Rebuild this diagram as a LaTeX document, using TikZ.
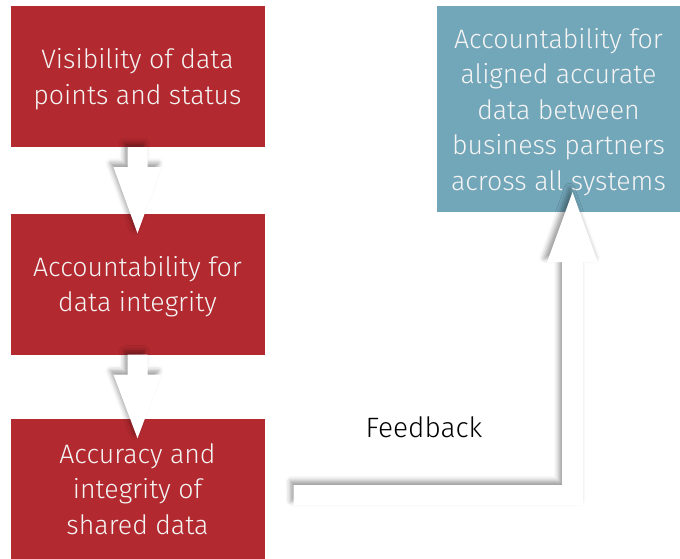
\documentclass[tikz,border=0pt]{standalone}
\usepackage{fontspec}
\setmainfont{Fira Sans Light}
\usepackage{xcolor}
\usepackage{tikz}
\usetikzlibrary{calc,shadows.blur}
\definecolor{stepred}{HTML}{B2292F}
\definecolor{goalblue}{HTML}{72A6B9}
\definecolor{boxtext}{HTML}{F4F4F4}
\tikzset{
  redbox/.style={fill=stepred,text=boxtext,align=center,inner sep=0pt,text depth=0pt,
    minimum width=254pt,minimum height=141pt,font=\fontsize{26.7}{35.5}\selectfont},
  bluebox/.style={fill=goalblue,text=boxtext,align=center,inner sep=0pt,text depth=0pt,
    minimum width=243pt,minimum height=206pt,font=\fontsize{26.7}{35.5}\selectfont},
  blockarrow/.style={fill=white,blur shadow={shadow xshift=-3pt,shadow yshift=4pt,
    shadow blur radius=5pt,shadow opacity=40}},
  feedbacklabel/.style={font=\fontsize{28}{30}\selectfont,text=black}
}
\begin{document}
\begin{tikzpicture}[x=1pt,y=-1pt]
  \useasboundingbox (0,0) rectangle (680,559);
  \node[redbox] (visibility) at (137.5,76.5) {Visibility of data\\points and status};
  \node[redbox] (integrity) at (137.5,284) {Accountability for\\data integrity};
  \node[redbox] (accuracy) at (137.5,489) {Accuracy and\\integrity of\\shared data};
  \node[bluebox] (partners) at (558.5,109) {Accountability for\\aligned accurate\\data between\\business partners\\across all systems};
  \node[feedbacklabel] (feedback) at (424,427) {Feedback};
  % block arrows down the red column
  \foreach \from/\to in {visibility/integrity,integrity/accuracy}
    \fill[blockarrow] ($(\from.south)+(-10,0)$) -- ++(0,20) -- ++(-14,0)
      -- ($(\to.north)+(0,20)$) -- ($(\from.south)+(24,20)$) -- ++(-14,0)
      -- ++(0,-20) -- cycle;
  % feedback arrow up to the blue box
  \coordinate (fbtip) at ($(partners.south)+(14,-20)$);
  \coordinate (fbstart) at ($(accuracy.east)+(29,-4)$);
  \fill[blockarrow] (fbstart) -- (fbstart -| {$(fbtip)+(-10.5,0)$}) -- ($(fbtip)+(-10.5,70)$)
    -- ++(-15,0) -- (fbtip) -- ($(fbtip)+(25.5,70)$) -- ++(-15,0)
    -- ($(fbstart -| fbtip)+(10.5,20)$) -- ($(fbstart)+(0,20)$) -- cycle;
\end{tikzpicture}
\end{document}
